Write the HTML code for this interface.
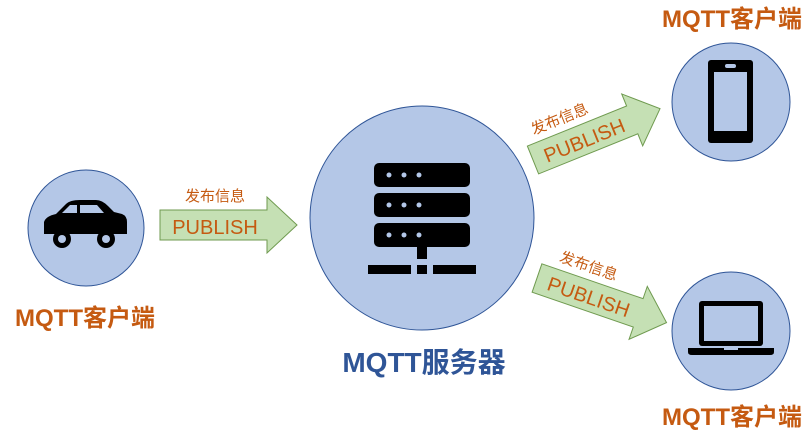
<!DOCTYPE html>
<html><head><meta charset="utf-8"><style>
html,body{margin:0;padding:0;background:#fff;}
svg{display:block;}
text{font-family:"Liberation Sans","Noto Sans CJK SC",sans-serif;}
</style></head><body>
<svg width="809" height="439" viewBox="0 0 809 439" xmlns="http://www.w3.org/2000/svg">
<defs>
<g id="arr"><polygon points="0,-15 107,-15 107,-28 137,0 107,28 107,15 0,15" fill="#c5e0b4" stroke="#6f9a4f" stroke-width="1"/></g>
</defs>
<circle cx="86" cy="228" r="58" fill="#b4c7e7" stroke="#2f5597" stroke-width="1"/>
<circle cx="422" cy="218" r="112" fill="#b4c7e7" stroke="#2f5597" stroke-width="1"/>
<circle cx="731" cy="102" r="59" fill="#b4c7e7" stroke="#2f5597" stroke-width="1"/>
<circle cx="731" cy="331" r="59" fill="#b4c7e7" stroke="#2f5597" stroke-width="1"/>

<g fill="#000">
<path d="M44,234 L44,222 Q46,216 56,214 L66,204 Q70,200 80,200 L96,200 Q102,200 108,206 L114,212 L122,214 Q127,216 127,222 L127,234 Z"/>
<circle cx="62" cy="239" r="9"/><circle cx="106" cy="239" r="9"/>
</g>
<circle cx="62" cy="239" r="4" fill="#b4c7e7"/><circle cx="106" cy="239" r="4" fill="#b4c7e7"/>
<path d="M62,213 L70,205 L77,205 L77,213 Z" fill="#b4c7e7"/>
<path d="M80,205 L97,205 L104,213 L80,213 Z" fill="#b4c7e7"/>

<g fill="#000">
<rect x="374" y="163" width="96" height="24" rx="5"/>
<rect x="374" y="193" width="96" height="24" rx="5"/>
<rect x="374" y="223" width="96" height="24" rx="5"/>
<rect x="417" y="247" width="10" height="12"/>
<rect x="368" y="265" width="43" height="9"/>
<rect x="417" y="265" width="10" height="9"/>
<rect x="433" y="265" width="43" height="9"/>
</g>
<g fill="#b4c7e7">
<circle cx="389" cy="175" r="2.5"/><circle cx="404" cy="175" r="2.5"/><circle cx="419" cy="175" r="2.5"/>
<circle cx="389" cy="205" r="2.5"/><circle cx="404" cy="205" r="2.5"/><circle cx="419" cy="205" r="2.5"/>
<circle cx="389" cy="235" r="2.5"/><circle cx="404" cy="235" r="2.5"/><circle cx="419" cy="235" r="2.5"/>
</g>

<rect x="708" y="60" width="45" height="83" rx="3" fill="#000"/>
<rect x="714" y="72" width="33" height="59" fill="#b4c7e7"/>
<rect x="725" y="64" width="11" height="4" rx="2" fill="#b4c7e7"/>

<rect x="699" y="301" width="64" height="45" rx="3" fill="#000"/>
<rect x="704" y="306" width="54" height="35" fill="#b4c7e7"/>
<path d="M688,348 L774,348 L774,352 Q774,355 770,355 L692,355 Q688,355 688,352 Z" fill="#000"/>
<rect x="724" y="348" width="14" height="2" fill="#b4c7e7"/>

<g transform="translate(160,225)"><use href="#arr"/>
<text x="55" y="9" text-anchor="middle" font-size="20" fill="#c55a11">PUBLISH</text>
<text x="55" y="-24" text-anchor="middle" font-size="15" fill="#c55a11">发布信息</text></g>
<g transform="translate(533,160) rotate(-22)"><use href="#arr"/>
<text x="55" y="8" text-anchor="middle" font-size="20" fill="#c55a11">PUBLISH</text>
<text x="40" y="-23" text-anchor="middle" font-size="15" fill="#c55a11">发布信息</text></g>
<g transform="translate(537,278) rotate(19)"><use href="#arr"/>
<text x="55" y="8" text-anchor="middle" font-size="20" fill="#c55a11">PUBLISH</text>
<text x="45" y="-23" text-anchor="middle" font-size="15" fill="#c55a11">发布信息</text></g>

<g font-weight="bold" font-size="24" fill="#c55a11">
<text x="85" y="326" text-anchor="middle">MQTT客户端</text>
<text x="732" y="27" text-anchor="middle">MQTT客户端</text>
<text x="732" y="425" text-anchor="middle">MQTT客户端</text>
</g>
<text x="424" y="372" text-anchor="middle" font-size="28" font-weight="bold" fill="#2f5597">MQTT服务器</text>
</svg>
</body></html>
